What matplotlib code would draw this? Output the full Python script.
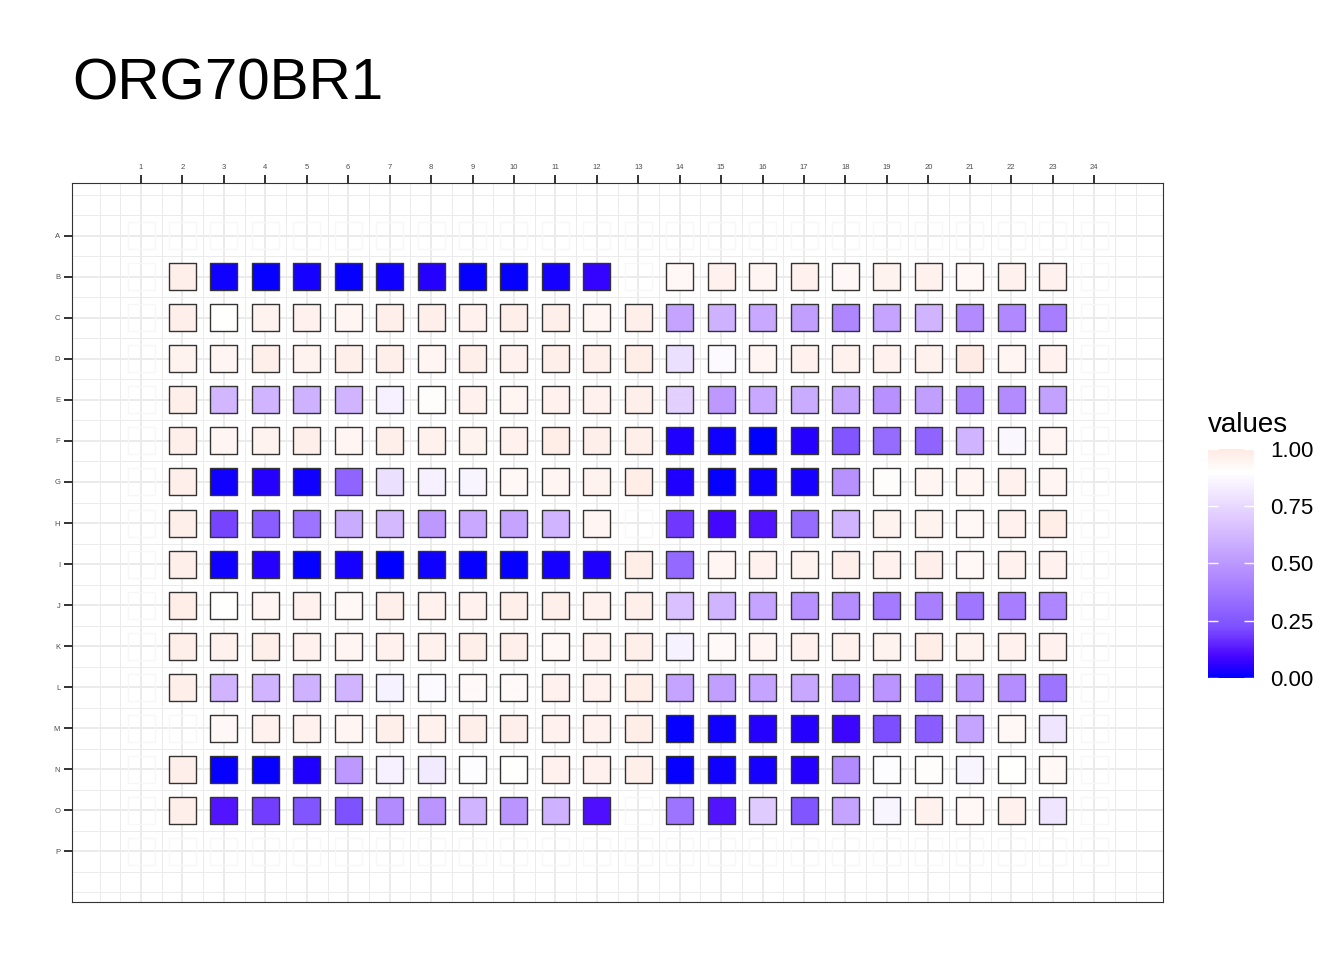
import numpy as np
import matplotlib
matplotlib.use('Agg')
import matplotlib.pyplot as plt
from matplotlib.colors import LinearSegmentedColormap

plt.rcParams['font.family'] = ['Liberation Sans', 'DejaVu Sans']

plate_name = 'ORG70BR1'
row_labels = list('ABCDEFGHIJKLMNOP')
col_labels = [str(c) for c in range(1, 25)]

nan = np.nan
# wells in columns 2..23, rows A and P (and columns 1, 24) are empty
row_B = [0.97, 0.02, 0.01, 0.03, 0.01, 0.02, 0.05, 0.01, 0.01, 0.03, 0.07, nan,
         0.93, 0.96, 0.94, 0.96, 0.93, 0.95, 0.96, 0.93, 0.96, 0.96]
row_C = [0.97, 0.90, 0.95, 0.96, 0.94, 0.97, 0.97, 0.96, 0.97, 0.97, 0.94, 0.97,
         0.55, 0.60, 0.57, 0.53, 0.43, 0.55, 0.61, 0.45, 0.44, 0.40]
row_D = [0.95, 0.94, 0.97, 0.95, 0.97, 0.97, 0.94, 0.97, 0.96, 0.97, 0.97, 0.98,
         0.78, 0.88, 0.94, 0.96, 0.96, 0.96, 0.96, 0.99, 0.94, 0.96]
row_E = [0.97, 0.62, 0.61, 0.60, 0.61, 0.84, 0.91, 0.96, 0.94, 0.96, 0.96, 0.97,
         0.72, 0.50, 0.57, 0.58, 0.55, 0.48, 0.53, 0.42, 0.45, 0.54]
row_F = [0.97, 0.94, 0.95, 0.97, 0.94, 0.97, 0.96, 0.95, 0.96, 0.98, 0.97, 0.97,
         0.04, 0.02, 0.00, 0.05, 0.24, 0.33, 0.30, 0.61, 0.87, 0.94]
row_G = [0.97, 0.02, 0.05, 0.02, 0.30, 0.78, 0.84, 0.86, 0.93, 0.94, 0.95, 0.98,
         0.04, 0.01, 0.02, 0.03, 0.48, 0.91, 0.94, 0.94, 0.96, 0.94]
row_H = [0.97, 0.20, 0.27, 0.36, 0.58, 0.63, 0.50, 0.57, 0.55, 0.61, 0.94, nan,
         0.18, 0.09, 0.12, 0.33, 0.61, 0.95, 0.95, 0.93, 0.96, 0.98]
row_I = [0.97, 0.02, 0.05, 0.01, 0.03, 0.00, 0.02, 0.01, 0.01, 0.03, 0.04, 0.98,
         0.32, 0.94, 0.96, 0.95, 0.97, 0.96, 0.97, 0.93, 0.96, 0.96]
row_J = [0.98, 0.90, 0.94, 0.96, 0.93, 0.97, 0.96, 0.96, 0.97, 0.97, 0.96, 0.97,
         0.66, 0.61, 0.55, 0.48, 0.46, 0.39, 0.41, 0.37, 0.40, 0.43]
row_K = [0.97, 0.96, 0.97, 0.96, 0.94, 0.96, 0.96, 0.97, 0.97, 0.93, 0.96, 0.97,
         0.85, 0.92, 0.94, 0.96, 0.96, 0.95, 0.98, 0.95, 0.96, 0.96]
row_L = [0.97, 0.61, 0.61, 0.60, 0.61, 0.85, 0.88, 0.92, 0.92, 0.96, 0.96, 0.98,
         0.55, 0.53, 0.55, 0.56, 0.44, 0.49, 0.36, 0.49, 0.46, 0.36]
row_M = [nan, 0.93, 0.96, 0.96, 0.94, 0.97, 0.96, 0.97, 0.97, 0.96, 0.96, 0.98,
         0.01, 0.02, 0.05, 0.05, 0.08, 0.22, 0.27, 0.55, 0.93, 0.80]
row_N = [0.97, 0.01, 0.01, 0.04, 0.50, 0.84, 0.82, 0.89, 0.90, 0.96, 0.96, 0.97,
         0.01, 0.02, 0.03, 0.05, 0.45, 0.89, 0.91, 0.86, 0.90, 0.93]
row_O = [0.97, 0.12, 0.19, 0.24, 0.23, 0.45, 0.49, 0.61, 0.49, 0.60, 0.11, nan,
         0.36, 0.12, 0.70, 0.24, 0.55, 0.86, 0.96, 0.93, 0.96, 0.80]

filled_rows = [row_B, row_C, row_D, row_E, row_F, row_G, row_H,
               row_I, row_J, row_K, row_L, row_M, row_N, row_O]

plate = np.full((16, 24), np.nan)
plate[1:15, 1:23] = np.array(filled_rows)

cols_idx, rows_idx = np.meshgrid(np.arange(1, 25), np.arange(1, 17))
xs = cols_idx.ravel()
ys = rows_idx.ravel()
vals = plate.ravel()
empty = np.isnan(vals)

# blue -> white -> red, white around 0.9 (so 1.0 is only a light pink)
well_cmap = LinearSegmentedColormap.from_list(
    'well', [(0.0, '#0000ff'), (0.05, '#2800ff'), (0.1, '#4a08ff'), (0.18, '#7038ff'),
             (0.225, '#7e51ff'), (0.45, '#b28bff'), (0.675, '#dcc4ff'),
             (0.9, '#ffffff'), (1.0, '#ffe9e3')])

fig = plt.figure(figsize=(13.44, 9.6), dpi=100)
ax = fig.add_axes([0.0536, 0.0604, 0.8118, 0.749])

ax.scatter(xs[empty], ys[empty], marker='s', s=378, facecolors='none',
           edgecolors='#f7f7f7', linewidths=1.0, zorder=2)
sc = ax.scatter(xs[~empty], ys[~empty], c=vals[~empty], cmap=well_cmap, vmin=0, vmax=1,
                marker='s', s=378, edgecolors='#333333', linewidths=1.0, zorder=3)

ax.set_xlim(-0.665, 25.665)
ax.set_ylim(17.24, -0.29)
ax.xaxis.tick_top()
ax.set_xticks(range(1, 25))
ax.set_xticklabels(col_labels)
ax.set_yticks(range(1, 17))
ax.set_yticklabels(row_labels)
ax.set_xticks(np.arange(0, 25.5, 0.5), minor=True)
ax.set_yticks(np.arange(0, 17.5, 0.5), minor=True)
ax.grid(which='major', color='#ebebeb', lw=1.4)
ax.grid(which='minor', color='#ebebeb', lw=0.7)
ax.set_axisbelow(True)
ax.tick_params(which='minor', length=0)
ax.tick_params(which='major', length=6, width=1.4, color='#333333',
               labelsize=5.5, labelcolor='#4d4d4d', pad=2.5)
for sp in ax.spines.values():
    sp.set_color('#333333')
    sp.set_linewidth(0.8)

fig.text(0.0536, 1 - 100 / 960, plate_name, fontsize=42, va='baseline', ha='left')

cax = fig.add_axes([0.8988, 0.2938, 0.0342, 0.2385])
cb = fig.colorbar(sc, cax=cax)
cb.set_ticks([0, 0.25, 0.5, 0.75, 1.0])
cb.set_ticklabels(['0.00', '0.25', '0.50', '0.75', '1.00'])
cb.outline.set_visible(False)
cax.tick_params(direction='in', color='white', length=7, width=1,
                left=True, right=True, labelsize=16, pad=12)
fig.text(1208 / 1344, 1 - 432 / 960, 'values', fontsize=20, va='baseline', ha='left')

fig.savefig('out.png', dpi=100)
